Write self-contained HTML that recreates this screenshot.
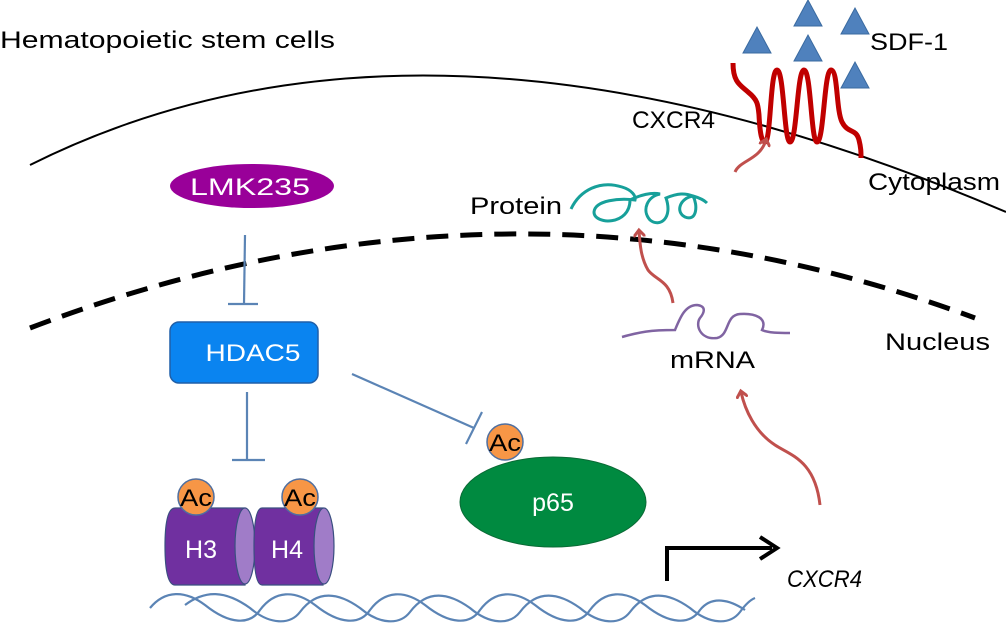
<!DOCTYPE html>
<html><head><meta charset="utf-8"><style>
html,body{margin:0;padding:0;background:#fff;}
svg{display:block;font-family:"Liberation Sans",Arial,sans-serif;}
</style></head><body>
<svg width="1006" height="626" viewBox="0 0 1006 626" xmlns="http://www.w3.org/2000/svg">
<defs>
<marker id="ra" markerWidth="12" markerHeight="12" refX="6" refY="6" orient="auto" markerUnits="userSpaceOnUse">
<path d="M0,0 L7,6 L0,12" fill="none" stroke="#c0504d" stroke-width="3"/>
</marker>
</defs>
<text x="0" y="48" font-size="24" textLength="335" lengthAdjust="spacingAndGlyphs">Hematopoietic stem cells</text>
<path d="M30 165 Q 430 -35 1006 212" fill="none" stroke="#000" stroke-width="2"/>
<path d="M30 328 Q 510 145 975 318" fill="none" stroke="#000" stroke-width="5" stroke-dasharray="22,12"/>
<g fill="#4f81bd" stroke="#3a6aa0" stroke-width="1">
<polygon points="743,53 771,53 757,27"/>
<polygon points="794,61 822,61 808,35"/>
<polygon points="794,26 822,26 808,0"/>
<polygon points="841,34 869,34 855,8"/>
<polygon points="841,88 869,88 855,62"/>
</g>
<text x="870" y="50" font-size="24" textLength="78" lengthAdjust="spacingAndGlyphs">SDF-1</text>
<path d="M733 63 C733 82 740 85 748 92 C758 100 758 105 759 115 C760 135 762 142 765 142 C771 142 770 70 777 70 C784 70 784 142 790 142 C797 142 797 70 804 70 C811 70 811 142 817 142 C824 142 824 70 831 70 C838 70 836 110 842 122 C848 134 856 128 859 140 C861 148 861 152 861 158" fill="none" stroke="#c00000" stroke-width="5"/>
<text x="632" y="128" font-size="24" textLength="83" lengthAdjust="spacingAndGlyphs">CXCR4</text>
<text x="868" y="190" font-size="24" textLength="132" lengthAdjust="spacingAndGlyphs">Cytoplasm</text>
<text x="470" y="214" font-size="24" textLength="92" lengthAdjust="spacingAndGlyphs">Protein</text>
<path d="M571 209 C580 190 600 180 622 187 C632 190 636 196 635 200 C620 198 595 200 594 212 C594 225 630 226 630 200 C640 195 652 192 660 194 C648 196 641 210 650 220 C660 228 673 218 666 198 C678 193 685 193 693 196 C680 198 675 212 685 217 C697 222 698 205 693 196 C700 198 704 200 707 203" fill="none" stroke="#17a09a" stroke-width="3"/>
<path d="M735 172 C740 160 760 160 766 140" fill="none" stroke="#c0504d" stroke-width="3" marker-end="url(#ra)"/>
<text x="885" y="350" font-size="24" textLength="105" lengthAdjust="spacingAndGlyphs">Nucleus</text>
<path d="M622 337 C640 332 650 330 675 330 C680 318 685 305 697 305 C706 306 705 312 700 318 C695 325 700 340 717 338 C730 335 725 315 740 314 C755 313 768 318 762 330 C768 333 780 333 790 333" fill="none" stroke="#8064a2" stroke-width="2.5"/>
<text x="670" y="368" font-size="24" textLength="85" lengthAdjust="spacingAndGlyphs">mRNA</text>
<path d="M673 303 C670 280 655 280 648 270 C641 258 640 245 639 231" fill="none" stroke="#c0504d" stroke-width="3" marker-end="url(#ra)"/>
<path d="M820 505 C815 460 790 455 775 445 C755 432 745 410 741 392" fill="none" stroke="#c0504d" stroke-width="3" marker-end="url(#ra)"/>
<ellipse cx="252" cy="186" rx="82" ry="22" fill="#990099"/>
<text x="250" y="195" font-size="24" fill="#fff" text-anchor="middle" textLength="120" lengthAdjust="spacingAndGlyphs">LMK235</text>
<g stroke="#5b84b5" stroke-width="2.2" fill="none">
<line x1="245" y1="235" x2="244" y2="304"/><line x1="228" y1="304" x2="258" y2="304"/>
<line x1="247" y1="392" x2="247" y2="460"/><line x1="232" y1="460" x2="265" y2="460"/>
<line x1="352" y1="374" x2="474" y2="428"/><line x1="482" y1="412" x2="466" y2="444"/>
</g>
<rect x="170" y="322" width="148" height="61" rx="9" fill="#0a84f0" stroke="#1f5fa8" stroke-width="1.5"/>
<text x="253" y="361" font-size="24" fill="#fff" text-anchor="middle" textLength="95" lengthAdjust="spacingAndGlyphs">HDAC5</text>
<ellipse cx="553" cy="502" rx="93" ry="45" fill="#008a40" stroke="#0a6a35" stroke-width="1"/>
<text x="553" y="511" font-size="25" fill="#fff" text-anchor="middle">p65</text>
<circle cx="505" cy="442" r="18" fill="#f79646" stroke="#4f6fa0" stroke-width="1.5"/>
<text x="505" y="451" font-size="24" text-anchor="middle" textLength="32" lengthAdjust="spacingAndGlyphs">Ac</text>
<g stroke="#3a4f80" stroke-width="1.2">
<path d="M175 508 L245 508 L245 585 L175 585 Q165 585 165 546 Q165 508 175 508Z" fill="#7030a0"/>
<ellipse cx="245" cy="546" rx="10" ry="38" fill="#a07cc8"/>
<path d="M262 508 L323 508 L323 585 L262 585 Q254 585 254 546 Q254 508 262 508Z" fill="#7030a0"/>
<ellipse cx="324" cy="546" rx="10" ry="38" fill="#a07cc8"/>
</g>
<text x="201" y="558" font-size="25" fill="#fff" text-anchor="middle">H3</text>
<text x="287" y="558" font-size="25" fill="#fff" text-anchor="middle">H4</text>
<circle cx="196" cy="497" r="18" fill="#f79646" stroke="#4f6fa0" stroke-width="1.5"/>
<text x="196" y="506" font-size="24" text-anchor="middle" textLength="32" lengthAdjust="spacingAndGlyphs">Ac</text>
<circle cx="300" cy="497" r="18" fill="#f79646" stroke="#4f6fa0" stroke-width="1.5"/>
<text x="300" y="506" font-size="24" text-anchor="middle" textLength="32" lengthAdjust="spacingAndGlyphs">Ac</text>
<path d="M667 581 L667 548 L772 548" fill="none" stroke="#000" stroke-width="4"/>
<path d="M760 537 L777 548 L760 559" fill="none" stroke="#000" stroke-width="4"/>
<g fill="none" stroke="#5b84b5" stroke-width="2.2">
<path d="M150 608 C165 590 185 590 205 605 C230 625 250 625 260 610 C275 590 295 590 315 605 C340 625 360 625 370 610 C385 590 405 590 425 605 C450 625 470 625 480 610 C495 590 515 590 535 605 C560 625 580 625 590 610 C605 590 625 590 645 605 C670 625 690 625 700 610 C712 595 730 600 745 610"/>
<path d="M185 605 C205 590 225 590 250 608 C270 625 290 625 300 612 C315 592 335 590 360 608 C380 625 400 625 410 612 C425 592 445 590 470 608 C490 625 510 625 520 612 C535 592 555 590 580 608 C600 625 620 625 630 612 C645 592 665 590 690 608 C710 625 730 625 740 612 C745 605 750 600 755 598"/>
</g>
<text x="787" y="587" font-size="24" font-style="italic" textLength="75" lengthAdjust="spacingAndGlyphs">CXCR4</text>
</svg>
</body></html>
